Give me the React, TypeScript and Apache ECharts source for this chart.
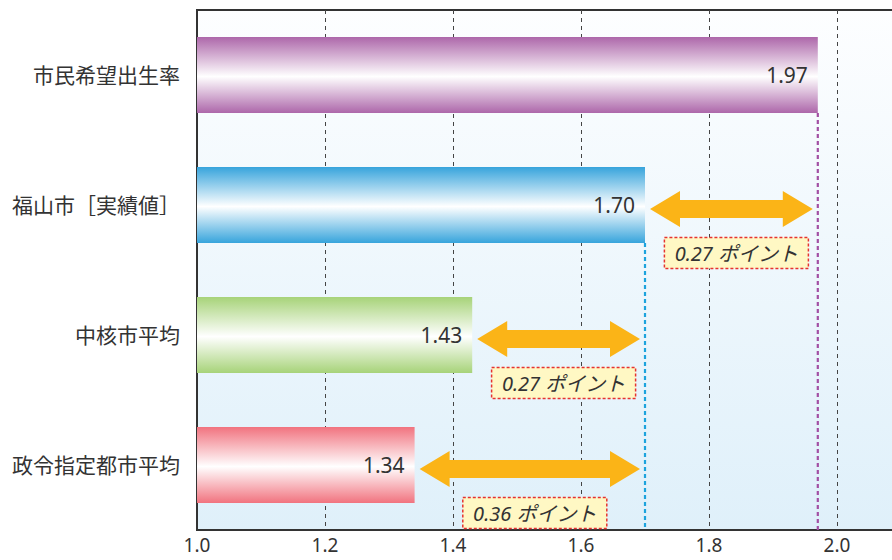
import React, { useEffect, useRef } from "react";
import * as echarts from "echarts";

const categories = ["市民希望出生率", "福山市［実績値］", "中核市平均", "政令指定都市平均"];
const values = [1.97, 1.7, 1.43, 1.34];
const barColors = ["#ad67aa", "#37a4dc", "#a7d379", "#f1737f"];

// differences drawn as double arrows: [from, to, row]
const gapFrom = [1.7, 1.43, 1.34];
const gapTo = [1.97, 1.7, 1.7];
const gapRows = [1, 2, 3];
const gapLabels = ["0.27 ポイント", "0.27 ポイント", "0.36 ポイント"];

// dashed reference lines dropped from bar ends
const refValues = [1.97, 1.7];
const refRows = [0, 1];
const refColors = ["#a24fa4", "#1ca3dd"];

const xTicks = [1.0, 1.2, 1.4, 1.6, 1.8, 2.0];

const FONT = '"Noto Sans", "Noto Sans CJK JP", sans-serif';

export default function App() {
  const ref = useRef<HTMLDivElement>(null);
  useEffect(() => {
    if (!ref.current) return;
    const chart = echarts.init(ref.current, null, { renderer: "svg" });
    const BAR_W = 76;

    const barData = values.map((v, i) => ({
      value: v,
      itemStyle: {
        color: new echarts.graphic.LinearGradient(0, 0, 0, 1, [
          { offset: 0, color: barColors[i] },
          { offset: 0.52, color: "#ffffff" },
          { offset: 1, color: barColors[i] },
        ]),
      },
    }));

    const arrowData = gapFrom.map((f, i) => [f, gapTo[i], gapRows[i], i]);
    const refData = refValues.map((v, i) => [v, refRows[i], i]);

    chart.setOption({
      animation: false,
      textStyle: { fontFamily: FONT },
      grid: {
        left: 197,
        top: 10,
        width: 704,
        height: 520,
        show: true,
        borderColor: "#333",
        borderWidth: 2,
        backgroundColor: new echarts.graphic.LinearGradient(0, 0, 0, 1, [
          { offset: 0, color: "#fdfeff" },
          { offset: 1, color: "#dff0fa" },
        ]),
      },
      xAxis: {
        type: "value",
        min: 1.0,
        max: 2.1,
        interval: 0.2,
        axisLine: { show: true, lineStyle: { color: "#333", width: 2 } },
        axisTick: { show: false },
        axisLabel: {
          fontSize: 19,
          color: "#333",
          margin: 5,
          fontFamily: FONT,
          formatter: (v: number) =>
            xTicks.some((t) => Math.abs(t - v) < 1e-6) ? v.toFixed(1) : "",
        },
        splitLine: {
          show: true,
          lineStyle: { color: "#444", width: 1, type: [4, 4] },
        },
      },
      yAxis: {
        type: "category",
        data: categories,
        inverse: true,
        axisLine: { show: true, lineStyle: { color: "#333", width: 2 } },
        axisTick: { show: false },
        axisLabel: { fontSize: 21, color: "#333", margin: 17, fontFamily: FONT },
        splitLine: { show: false },
      },
      series: [
        {
          type: "bar",
          data: barData,
          barWidth: BAR_W,
          z: 3,
          label: {
            show: true,
            position: "insideRight",
            distance: 10,
            fontSize: 21,
            color: "#333",
            fontFamily: FONT,
            formatter: (p: any) => Number(p.value).toFixed(2),
          },
        },
        {
          type: "custom",
          z: 4,
          data: refData,
          renderItem: (params: any, api: any) => {
            const v = api.value(0);
            const row = api.value(1);
            const idx = api.value(2);
            const pt = api.coord([v, row]);
            const bottom = params.coordSys.y + params.coordSys.height;
            return {
              type: "line",
              shape: { x1: pt[0], y1: pt[1] + BAR_W / 2, x2: pt[0], y2: bottom },
              style: {
                stroke: refColors[idx],
                lineWidth: 2.2,
                lineDash: [4, 3],
              },
            };
          },
        },
        {
          type: "custom",
          z: 5,
          data: arrowData,
          renderItem: (params: any, api: any) => {
            const f = api.value(0);
            const t = api.value(1);
            const row = api.value(2);
            const idx = api.value(3);
            const p1 = api.coord([f, row]);
            const p2 = api.coord([t, row]);
            const x1 = p1[0] + 5;
            const x2 = p2[0] - 5;
            const cy = p1[1] + 4;
            const h = 30;
            const hh = 18;
            const sh = 9;
            const points = [
              [x1, cy],
              [x1 + h, cy - hh],
              [x1 + h, cy - sh],
              [x2 - h, cy - sh],
              [x2 - h, cy - hh],
              [x2, cy],
              [x2 - h, cy + hh],
              [x2 - h, cy + sh],
              [x1 + h, cy + sh],
              [x1 + h, cy + hh],
            ];
            const mx = (x1 + x2) / 2 + 5;
            const by = cy + 44;
            const bw = 144;
            const bh = 31;
            return {
              type: "group",
              children: [
                {
                  type: "polygon",
                  shape: { points },
                  style: { fill: "#fbb417" },
                },
                {
                  type: "rect",
                  shape: { x: mx - bw / 2, y: by - bh / 2, width: bw, height: bh },
                  style: {
                    fill: "#fff8c4",
                    stroke: "#e6332f",
                    lineWidth: 1.5,
                    lineDash: [3, 2],
                  },
                },
                {
                  type: "text",
                  x: mx,
                  y: by,
                  style: {
                    text: gapLabels[idx],
                    fill: "#333",
                    fontSize: 20,
                    fontStyle: "italic",
                    fontFamily: FONT,
                    align: "center",
                    verticalAlign: "middle",
                  },
                },
              ],
            };
          },
        },
      ],
    });
    return () => chart.dispose();
  }, []);

  return (
    <div
      style={{
        position: "fixed",
        left: 0,
        top: 0,
        width: 892,
        height: 560,
        overflow: "hidden",
        background: "#fff",
      }}
    >
      <div ref={ref} style={{ width: 920, height: 560 }} />
    </div>
  );
}
